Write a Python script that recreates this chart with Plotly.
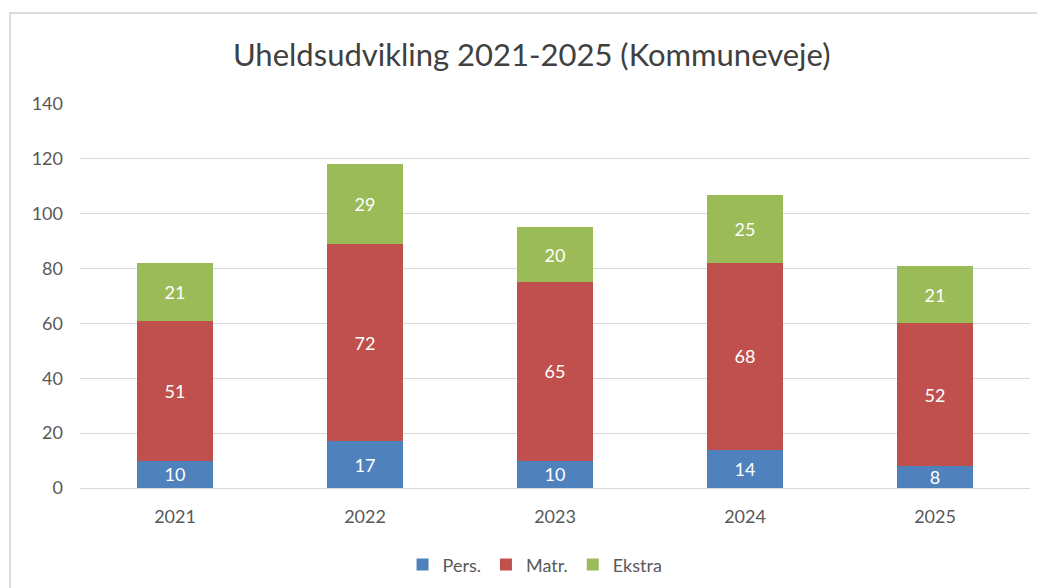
import plotly.graph_objects as go

years = ["2021", "2022", "2023", "2024", "2025"]
pers = [10, 17, 10, 14, 8]
matr = [51, 72, 65, 68, 52]
ekstra = [21, 29, 20, 25, 21]
series_names = ["Pers.", "Matr.", "Ekstra"]
colors = ["#4F81BD", "#C0504D", "#9BBB59"]
y_ticks = [0, 20, 40, 60, 80, 100, 120, 140]

FONT = "Lato, Carlito, Calibri, sans-serif"

fig = go.Figure()
for name, vals, col in zip(series_names, [pers, matr, ekstra], colors):
    fig.add_trace(go.Bar(
        x=years, y=vals, name=name,
        marker=dict(color=col, line=dict(width=0)),
        text=[str(v) for v in vals],
        textposition="inside", insidetextanchor="middle",
        textangle=0,
        textfont=dict(color="white", size=18, family=FONT),
        constraintext="none",
    ))

# page body has an 8px default margin; size the figure so it fits the window
fig.update_layout(
    barmode="stack",
    bargap=0.6,
    width=1037, height=580,
    margin=dict(l=72, r=15, t=96, b=100, autoexpand=False),
    paper_bgcolor="white", plot_bgcolor="white",
    font=dict(family=FONT, color="#595959"),
    title=dict(text="Uheldsudvikling 2021-2025 (Kommuneveje)",
               x=0.505, xanchor="center", y=0.919, yanchor="middle",
               font=dict(size=31, color="#404040", family=FONT)),
    legend=dict(orientation="h", x=0.479, xanchor="center",
                y=-0.2, yanchor="middle",
                font=dict(size=18, color="#595959"), traceorder="normal",
                itemwidth=30),
    xaxis=dict(showgrid=False, showline=True, linecolor="#D9D9D9", linewidth=1,
               ticks="", tickfont=dict(size=18, color="#595959"),
               ticklabelstandoff=12),
    yaxis=dict(range=[0, 140], tickvals=y_ticks, showgrid=True, gridcolor="#D9D9D9",
               gridwidth=1, zeroline=False, showline=False, ticks="",
               tickfont=dict(size=18, color="#595959"), ticklabelstandoff=16),
    shapes=[dict(type="rect", xref="paper", yref="paper",
                 x0=-0.0737, x1=1.05, y0=-0.4, y1=1.237,
                 line=dict(color="#D0D0D0", width=1.5), fillcolor="rgba(0,0,0,0)",
                 layer="below")],
)

fig.write_html("out.html")
